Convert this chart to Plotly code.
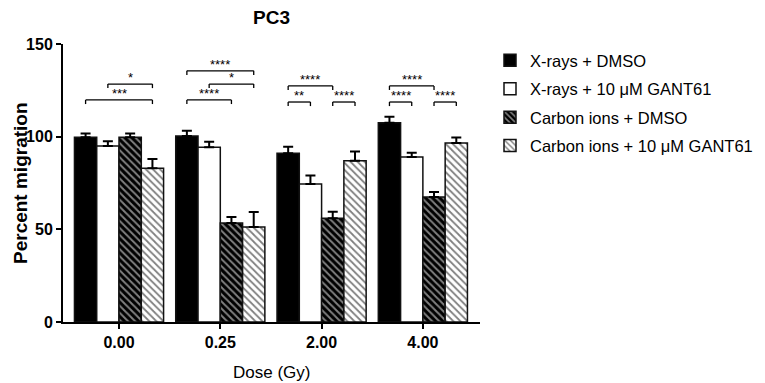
import plotly.graph_objects as go

doses = ["0.00", "0.25", "2.00", "4.00"]
series_names = ["X-rays + DMSO", "X-rays + 10 μM GANT61",
                "Carbon ions + DMSO", "Carbon ions + 10 μM GANT61"]
xray_dmso = [99.7, 100.4, 91.0, 107.5]
xray_dmso_err = [2.0, 2.8, 3.5, 3.3]
xray_gant = [95.0, 94.3, 74.5, 89.0]
xray_gant_err = [2.5, 3.0, 4.5, 2.3]
carbon_dmso = [99.7, 53.4, 56.0, 67.5]
carbon_dmso_err = [2.0, 3.3, 3.5, 2.7]
carbon_gant = [83.0, 51.3, 87.0, 96.6]
carbon_gant_err = [5.0, 8.1, 5.0, 3.0]

# significance brackets: (dose index, bar i, bar j, level, label)
sig_group = [0, 0, 1, 1, 1, 2, 2, 2, 3, 3, 3]
sig_bar_a = [1, 0, 0, 1, 0, 0, 0, 2, 0, 0, 2]
sig_bar_b = [3, 3, 3, 3, 2, 2, 1, 3, 2, 1, 3]
sig_level = [128.4, 119.8, 135.5, 128.4, 119.8, 127.4, 118.7, 118.7, 127.4, 118.7, 118.7]
sig_label = ["*", "***", "****", "*", "****", "****", "**", "****", "****", "****", "****"]

FONT = "Arial, Liberation Sans, sans-serif"
WIN_W, WIN_H = 765, 383
OFF = 8  # default page body margin
W, H = WIN_W - OFF, WIN_H - OFF
PL, PR, PT, PB = 63, 480, 44, 322  # plot area in window pixels

def cx(px):  # window px -> container x
    return (px - OFF) / W
def cy(py):
    return 1 - (py - OFF) / H
def px_(px):  # window px -> paper x
    return (px - PL) / (PR - PL)
def py_(py):
    return (PB - py) / (PB - PT)

values = [xray_dmso, xray_gant, carbon_dmso, carbon_gant]
errors = [xray_dmso_err, xray_gant_err, carbon_dmso_err, carbon_gant_err]
fills = ["black", "white", "black", "white"]
patterns = [
    None,
    None,
    dict(shape="\\", fgcolor="white", bgcolor="black", size=5, solidity=0.4, fillmode="overlay"),
    dict(shape="\\", fgcolor="black", bgcolor="white", size=5, solidity=0.35, fillmode="overlay"),
]

fig = go.Figure()
for k in range(4):
    marker = dict(color=fills[k], line=dict(color="#111111", width=1.5))
    if patterns[k] is not None:
        marker["pattern"] = patterns[k]
    fig.add_trace(go.Bar(
        x=doses, y=values[k], name=series_names[k], marker=marker,
        legendgroup=str(k),
        error_y=dict(type="data", symmetric=False, array=errors[k],
                     arrayminus=[0] * len(doses), color="black",
                     thickness=2, width=5),
    ))

bargap = 0.12
nb = 4
bw = (1 - bargap) / nb
def bar_center(g, i):
    return g - (1 - bargap) / 2 + bw * (i + 0.5)

tick_d = 2.2
for g, a, b, lv, lab in zip(sig_group, sig_bar_a, sig_bar_b, sig_level, sig_label):
    x1 = bar_center(g, a)
    x2 = bar_center(g, b)
    ln = dict(color="black", width=1.3)
    fig.add_shape(type="line", x0=x1, x1=x2, y0=lv, y1=lv, xref="x", yref="y", line=ln)
    fig.add_shape(type="line", x0=x1, x1=x1, y0=lv, y1=lv - tick_d, xref="x", yref="y", line=ln)
    fig.add_shape(type="line", x0=x2, x1=x2, y0=lv, y1=lv - tick_d, xref="x", yref="y", line=ln)
    fig.add_annotation(x=(x1 + x2) / 2, y=lv, xref="x", yref="y", text=lab,
                       showarrow=False, yanchor="bottom", yshift=-3,
                       font=dict(family=FONT, size=13, color="black"))

fig.add_annotation(text="<b>Percent migration</b>", textangle=-90,
                   x=px_(20), y=py_(183), xref="paper", yref="paper",
                   showarrow=False, xanchor="center", yanchor="middle",
                   font=dict(family=FONT, size=19, color="black"))
fig.add_annotation(text="Dose (Gy)", x=0.5, y=py_(372),
                   xref="paper", yref="paper", showarrow=False,
                   xanchor="center", yanchor="middle",
                   font=dict(family=FONT, size=17, color="black"))

fig.update_layout(
    width=W, height=H,
    margin=dict(l=PL - OFF, r=WIN_W - PR, t=PT - OFF, b=WIN_H - PB, autoexpand=False),
    paper_bgcolor="white", plot_bgcolor="white",
    barmode="group", bargap=bargap, bargroupgap=0,
    font=dict(family=FONT, color="black"),
    title=dict(text="<b>PC3</b>", x=0.5, xref="paper", xanchor="center",
               yref="container", y=cy(17), yanchor="middle",
               font=dict(size=19, color="black")),
    legend=dict(xref="container", yref="container", x=cx(490), y=cy(43),
                xanchor="left", yanchor="top", traceorder="grouped",
                tracegroupgap=4, font=dict(size=16.5, color="black"),
                bgcolor="rgba(0,0,0,0)"),
    showlegend=True,
)
fig.update_xaxes(
    type="category", range=[-0.553, 3.564], showline=True, linecolor="black",
    linewidth=2, ticks="outside", ticklen=5, tickwidth=2, tickcolor="black",
    tickfont=dict(size=16, family=FONT, color="black", weight="bold"),
    showgrid=False, zeroline=False, automargin=False,
)
fig.update_yaxes(
    range=[0, 150], tickvals=[0, 50, 100, 150], showline=True, linecolor="black",
    linewidth=2, ticks="outside", ticklen=5, tickwidth=2, tickcolor="black",
    tickfont=dict(size=16, family=FONT, color="black", weight="bold"),
    showgrid=False, zeroline=False, automargin=False,
)

fig.write_html("out.html")
